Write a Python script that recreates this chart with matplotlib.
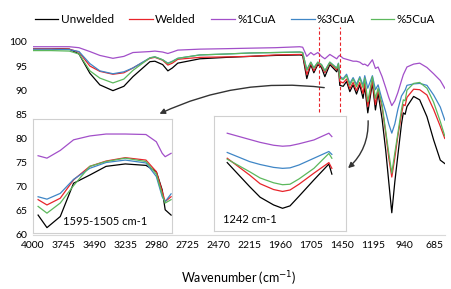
import matplotlib
matplotlib.use("Agg")
import matplotlib.pyplot as plt

plt.rcParams["font.family"] = ["Lato", "DejaVu Sans"]

# main spectrum (wavenumber, %T)
wn = [4000, 3850, 3700, 3620, 3530, 3448, 3340, 3250, 3175, 3035, 2994, 2930,
      2887, 2850, 2805, 2623, 2400, 2211, 2000, 1800, 1775, 1741, 1708, 1683,
      1650, 1620, 1592, 1551, 1494, 1480, 1469, 1441, 1413, 1386, 1359, 1331,
      1304, 1277, 1263, 1238, 1200, 1175, 1153, 1120, 1090, 1065, 1040, 1015,
      990, 960, 945, 930, 915, 860, 810, 750, 695, 640, 603]

unwelded = [98.6, 98.6, 98.5, 97.5, 93.5, 91.1, 89.9, 90.8, 92.8, 95.9, 96.0, 95.3,
            94.0, 94.6, 95.6, 96.5, 96.8, 97.0, 97.2, 97.3, 97.2, 92.4, 95.3, 93.6,
            95.3, 94.7, 92.8, 95.3, 93.8, 95.0, 91.0, 90.8, 91.8, 89.7, 91.1, 89.2,
            91.1, 88.3, 90.8, 85.3, 91.5, 85.9, 89.4, 84.0, 77.5, 71.0, 64.6, 71.0,
            76.5, 83.0, 85.3, 85.0, 86.6, 88.7, 88.0, 84.5, 79.7, 75.5, 74.8]
welded = [98.6, 98.6, 98.5, 97.9, 95.0, 93.9, 93.3, 93.6, 94.6, 96.6, 96.8, 96.2,
          95.2, 95.6, 96.4, 96.8, 96.9, 97.0, 97.3, 97.4, 97.4, 93.2, 95.6, 94.0,
          95.6, 95.0, 93.6, 95.6, 94.2, 95.3, 91.8, 91.5, 92.3, 90.3, 91.6, 89.9,
          91.6, 89.3, 91.5, 86.6, 92.0, 87.0, 90.0, 86.5, 81.0, 76.0, 72.0, 76.0,
          80.5, 85.0, 87.0, 86.8, 88.5, 90.2, 90.1, 89.0, 86.0, 82.5, 80.0]
cu1 = [99.0, 99.0, 99.0, 98.8, 98.0, 97.2, 96.6, 97.0, 97.8, 98.0, 98.1, 97.9,
       97.6, 97.9, 98.3, 98.5, 98.6, 98.7, 98.8, 99.0, 98.9, 97.0, 97.8, 97.3,
       97.8, 97.0, 96.5, 97.4, 96.5, 97.0, 97.2, 96.6, 96.4, 96.2, 96.0, 96.0,
       95.8, 95.3, 95.4, 95.0, 96.3, 94.5, 94.8, 92.8, 90.5, 88.5, 86.8, 87.8,
       89.5, 92.0, 93.2, 94.0, 94.8, 95.4, 95.6, 94.7, 93.4, 92.0, 90.4]
cu3 = [98.5, 98.5, 98.4, 98.0, 95.5, 94.0, 93.4, 93.8, 94.6, 96.7, 96.9, 96.3,
       95.6, 96.0, 96.6, 97.3, 97.5, 97.7, 97.8, 97.9, 97.8, 94.2, 95.8, 94.6,
       95.8, 95.3, 94.0, 95.8, 94.6, 95.6, 92.8, 92.4, 93.3, 91.4, 92.6, 91.2,
       92.8, 91.0, 93.0, 90.4, 93.0, 90.1, 91.1, 88.0, 85.5, 83.0, 81.1, 83.0,
       86.0, 88.8, 89.4, 90.0, 91.0, 91.3, 91.4, 91.0, 89.0, 86.5, 83.8]
cu5 = [98.2, 98.2, 98.1, 97.5, 94.0, 92.5, 91.5, 92.3, 94.1, 96.7, 96.9, 96.3,
       95.5, 95.9, 96.6, 97.3, 97.5, 97.7, 97.8, 97.9, 97.8, 94.2, 95.8, 94.6,
       95.8, 95.3, 94.0, 95.8, 94.5, 95.5, 92.5, 92.2, 93.0, 91.0, 92.3, 90.7,
       92.5, 90.5, 92.5, 87.6, 92.8, 88.3, 90.4, 87.0, 81.5, 77.0, 72.8, 77.0,
       81.0, 86.0, 88.0, 87.8, 90.0, 91.4, 91.6, 90.4, 87.5, 83.5, 80.5]

# inset 1: 1595-1505 cm-1
wn_a = [1595, 1589, 1580, 1571, 1560, 1549, 1536, 1522, 1515, 1511, 1509, 1505]
unwelded_a = [64.1, 61.5, 63.8, 70.7, 72.4, 74.2, 74.7, 74.4, 73.1, 69.3, 65.2, 64.1]
welded_a = [67.3, 66.2, 67.6, 71.4, 74.2, 75.3, 76.0, 75.5, 73.1, 69.0, 66.9, 67.9]
cu1_a = [76.4, 75.9, 77.5, 79.7, 80.5, 80.9, 80.9, 80.8, 79.3, 76.9, 76.2, 76.9]
cu3_a = [67.9, 67.4, 68.6, 71.5, 73.8, 75.0, 75.5, 74.9, 72.1, 67.9, 66.9, 68.5]
cu5_a = [65.9, 64.5, 66.6, 70.2, 74.2, 75.2, 75.9, 75.2, 72.6, 68.3, 66.6, 67.3]

# inset 2: around 1242 cm-1
wn_b = [1280, 1265, 1258, 1249, 1243, 1238, 1232, 1222, 1212, 1210]
unwelded_b = [75.0, 70.0, 67.8, 66.2, 65.5, 66.0, 68.0, 71.4, 74.7, 72.6]
welded_b = [75.9, 72.4, 70.6, 69.4, 69.0, 69.3, 70.5, 72.8, 75.0, 73.8]
cu1_b = [81.1, 79.8, 79.2, 78.6, 78.4, 78.5, 78.9, 79.7, 81.1, 80.4]
cu3_b = [77.1, 75.2, 74.6, 74.0, 73.8, 73.9, 74.5, 75.9, 77.3, 76.7]
cu5_b = [75.7, 73.1, 71.8, 70.8, 70.4, 70.5, 71.6, 73.8, 76.9, 75.9]

labels = ["Unwelded", "Welded", "%1CuA", "%3CuA", "%5CuA"]
colors = ["#000000", "#e8242a", "#a24fc9", "#3f86c6", "#5cb85c"]

fig = plt.figure(figsize=(4.51, 2.89), dpi=100)
ax = fig.add_axes([0.073, 0.187, 0.914, 0.668])
for ys, lab, c in zip([unwelded, welded, cu1, cu3, cu5], labels, colors):
    ax.plot(wn, ys, color=c, lw=0.9, label=lab)
ax.set_xlim(4000, 600)
ax.set_ylim(60, 100)
ax.set_xticks(range(4000, 600, -255))
ax.set_yticks(range(60, 101, 5))
ax.tick_params(length=0, labelsize=7.5, pad=4)
for s in ["top", "right", "left"]:
    ax.spines[s].set_visible(False)
ax.spines["bottom"].set_color("#d9d9d9")
ax.set_xlabel("Wavenumber (cm$^{-1}$)", fontsize=9, labelpad=14)

for x in [1640, 1470]:
    ax.axvline(x, ymin=0.635, ymax=1.078, color="#e8242a", lw=0.8,
               ls=(0, (3, 2)), clip_on=False)

ax.legend(loc="lower center", bbox_to_anchor=(0.49, 1.065), ncol=5, frameon=False,
          fontsize=8.5, handlelength=2.0, handletextpad=0.2, columnspacing=1.3,
          borderaxespad=0)


def inset(rect, x, series, xlim, ylim, text, tx):
    ia = fig.add_axes(rect)
    for ys, c in zip(series, colors):
        ia.plot(x, ys, color=c, lw=0.9)
    ia.set_xlim(*xlim)
    ia.set_ylim(*ylim)
    ia.set_xticks([])
    ia.set_yticks([])
    for s in ia.spines.values():
        s.set_color("#d0d0d0")
        s.set_linewidth(0.8)
    ia.text(tx, 0.1, text, transform=ia.transAxes, fontsize=8, va="center")
    return ia


inset([0.073, 0.194, 0.308, 0.394], wn_a,
      [unwelded_a, welded_a, cu1_a, cu3_a, cu5_a],
      (1598.5, 1504.5), (60.4, 84.0), "1595-1505 cm-1", 0.22)
inset([0.474, 0.201, 0.293, 0.398], wn_b,
      [unwelded_b, welded_b, cu1_b, cu3_b, cu5_b],
      (1289, 1200.6), (60.8, 84.7), "1242 cm-1", 0.07)

arrow = dict(arrowstyle="-|>", color="#333333", lw=1.0, mutation_scale=8)
ax.annotate("", xy=(157, 174), xytext=(327, 201), xycoords="figure pixels",
            textcoords="figure pixels",
            arrowprops=dict(arrow, connectionstyle="arc3,rad=0.15"))
ax.annotate("", xy=(346, 119), xytext=(368, 171), xycoords="figure pixels",
            textcoords="figure pixels",
            arrowprops=dict(arrow, connectionstyle="arc3,rad=-0.25"))

fig.savefig("out.png", dpi=100)
